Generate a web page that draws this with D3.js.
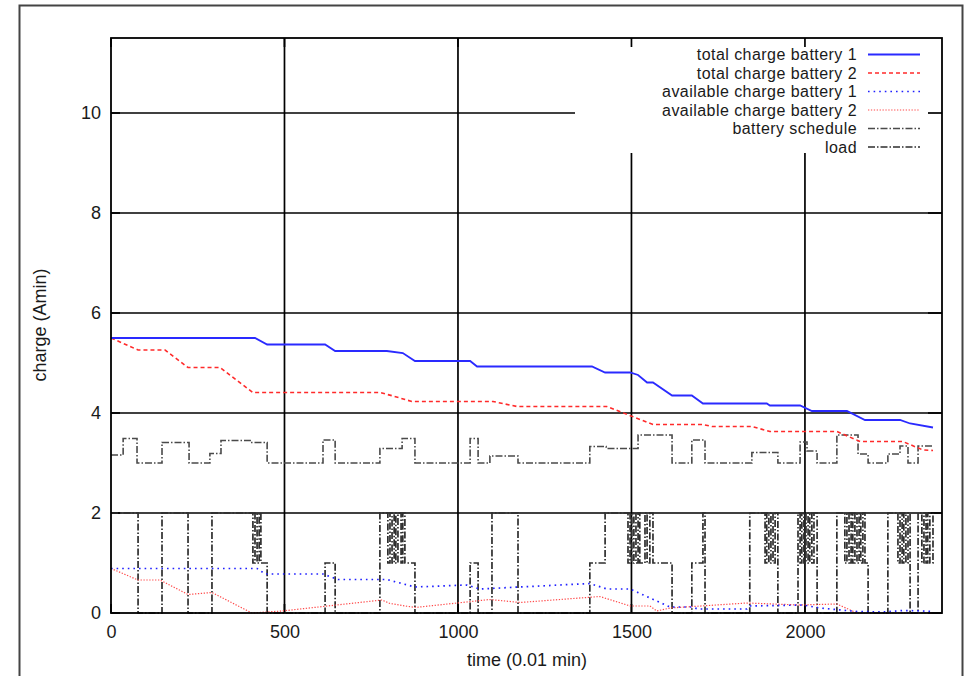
<!DOCTYPE html>
<html>
<head>
<meta charset="utf-8">
<script src="https://cdn.jsdelivr.net/npm/d3@7"></script>
<style>
body { margin: 0; background: #fff; }
svg { display: block; font-family: "Liberation Sans", Arial, sans-serif; }
</style>
</head>
<body>
<svg></svg>
<script>
var width = 979
var height = 676

// time (0.01 min) / charge (Amin) pairs
var xTicks = [0, 500, 1000, 1500, 2000]
var yTicks = [0, 2, 4, 6, 8, 10]

var totalCharge1 = [[0,5.5],[415,5.5],[450,5.37],[617,5.37],[646,5.24],[795,5.24],[841,5.2],[876,5.04],[1035,5.04],
  [1055,4.93],[1386,4.93],[1424,4.81],[1496,4.81],[1519,4.76],[1545,4.61],[1562,4.61],[1617,4.35],[1674,4.35],
  [1706,4.19],[1890,4.19],[1899,4.15],[1986,4.15],[2020,4.04],[2121,4.04],[2173,3.86],[2274,3.86],[2303,3.79],[2369,3.71]]

var totalCharge2 = [[0,5.5],[78,5.26],[156,5.26],[222,4.91],[314,4.91],[409,4.41],[775,4.41],[813,4.34],[867,4.23],
  [1101,4.23],[1170,4.13],[1429,4.13],[1562,3.77],[1706,3.77],[1732,3.73],[1847,3.73],[1899,3.63],[2092,3.63],
  [2159,3.43],[2282,3.43],[2340,3.26],[2369,3.25]]

var availCharge1 = [[0,0.89],[421,0.89],[444,0.78],[611,0.78],[654,0.67],[795,0.67],[876,0.52],[1026,0.56],[1063,0.48],
  [1380,0.59],[1429,0.48],[1496,0.48],[1611,0.12],[1674,0.12],[1692,0.08],[1833,0.08],[1841,0.14],[1994,0.16],
  [2043,0.1],[2150,0.03],[2225,0.02],[2282,0.05],[2340,0.04],[2369,0.03]]

var availCharge2 = [[0,0.89],[78,0.66],[141,0.66],[222,0.37],[291,0.41],[406,0],[493,0.04],[781,0.26],[804,0.19],
  [876,0.11],[1092,0.27],[1179,0.21],[1409,0.33],[1496,0.14],[1553,0.14],[1573,0.04],[1611,0.1],[1833,0.2],
  [1986,0.16],[2092,0.18],[2150,0],[2369,0]]

var schedule = [[0,3.16],[35,3.49],[75,3.0],[147,3.41],[225,3.0],[285,3.19],[317,3.45],[401,3.41],[450,3.0],[611,3.46],
  [646,3.0],[775,3.29],[839,3.49],[876,3.0],[1035,3.49],[1058,3.0],[1092,3.14],[1173,3.0],[1380,3.33],[1427,3.29],
  [1519,3.56],[1617,3.0],[1674,3.46],[1712,3.0],[1847,3.21],[1922,3.0],[1986,3.42],[2006,3.24],[2035,3.0],[2092,3.56],
  [2153,3.18],[2182,3.0],[2239,3.18],[2274,3.34],[2297,3.0],[2326,3.34],[2369,3.34]]

var load = [[0,2],[78,0],[147,2],[222,0],[291,2],[409,1],[415,2],[421,1],[427,2],[432,1],[450,0],[617,1],[646,0],
  [775,2],[798,1],[804,2],[810,1],[816,2],[821,1],[827,2],[836,1],[841,2],[847,1],[876,0],[1035,1],[1058,0],[1098,2],
  [1173,0],[1380,1],[1424,2],[1490,1],[1496,2],[1501,1],[1507,2],[1513,1],[1519,2],[1524,1],[1539,2],[1545,1],[1553,2],
  [1562,1],[1617,0],[1674,1],[1706,2],[1712,0],[1841,2],[1885,1],[1890,2],[1896,1],[1902,2],[1908,1],[1914,2],[1922,0],
  [1980,2],[1986,1],[1991,2],[1997,1],[2003,2],[2009,1],[2014,2],[2020,1],[2026,2],[2035,0],[2092,2],[2115,1],[2121,2],
  [2127,1],[2133,2],[2138,1],[2144,2],[2150,1],[2156,2],[2161,1],[2167,2],[2173,1],[2182,0],[2239,2],[2268,1],[2274,2],
  [2280,1],[2285,2],[2291,1],[2297,2],[2303,0],[2326,2],[2337,1],[2343,2],[2349,1],[2354,2],[2360,1],[2369,2]]

var x = d3.scaleLinear().domain([0, 2395]).range([111, 942])
var y = d3.scaleLinear().domain([0, 11.5]).range([613, 38])

var series = [
  {name: "total charge battery 1", data: totalCharge1, color: "#2a2aff", dash: null, w: 1.8, step: false},
  {name: "total charge battery 2", data: totalCharge2, color: "#ff2a2a", dash: "4,3", w: 1.6, step: false},
  {name: "available charge battery 1", data: availCharge1, color: "#2020ff", dash: "1.6,4", w: 1.7, step: false},
  {name: "available charge battery 2", data: availCharge2, color: "#ff4a4a", dash: "1.3,1.6", w: 1.2, step: false},
  {name: "battery schedule", data: schedule, color: "#4a4a4a", dash: "7,2,1.5,2", w: 1.6, step: true},
  {name: "load", data: load, color: "#2e2e2e", dash: "7,2,1.5,2", w: 1.7, step: true}
]

const svg = d3.select("svg")
  .attr("width", width)
  .attr("height", height)

// outer page frame
svg.append("rect")
  .attr("x", 19.5).attr("y", 5.5)
  .attr("width", 943).attr("height", 700)
  .attr("fill", "none")
  .attr("stroke", "#444")
  .attr("stroke-width", 2)

// grid
var grid = svg.append("g")
  .attr("stroke", "#000")
  .attr("stroke-width", 1.7)
grid.selectAll(".gx").data(xTicks.slice(1)).join("line")
  .attr("x1", d => x(d)).attr("x2", d => x(d))
  .attr("y1", y(0)).attr("y2", y(11.5))
grid.selectAll(".gy").data(yTicks.slice(1)).join("line")
  .attr("x1", x(0)).attr("x2", x(2395))
  .attr("y1", d => y(d)).attr("y2", d => y(d))

// opaque key area
svg.append("rect")
  .attr("x", 575).attr("y", 39)
  .attr("width", 366).attr("height", 114)
  .attr("fill", "#fff")

// inward ticks on all four sides
var ticks = svg.append("g").attr("stroke", "#000").attr("stroke-width", 1.7)
xTicks.forEach(function(t) {
  ticks.append("line").attr("x1", x(t)).attr("x2", x(t)).attr("y1", y(11.5)).attr("y2", y(11.5) + 9)
  ticks.append("line").attr("x1", x(t)).attr("x2", x(t)).attr("y1", y(0)).attr("y2", y(0) - 9)
})
yTicks.forEach(function(t) {
  ticks.append("line").attr("x1", x(0)).attr("x2", x(0) + 9).attr("y1", y(t)).attr("y2", y(t))
  ticks.append("line").attr("x1", x(2395)).attr("x2", x(2395) - 14).attr("y1", y(t)).attr("y2", y(t))
})

// data lines
var line = d3.line().x(d => x(d[0])).y(d => y(d[1]))
var stepLine = d3.line().x(d => x(d[0])).y(d => y(d[1])).curve(d3.curveStepAfter)

svg.append("g")
  .attr("fill", "none")
  .selectAll("path")
  .data(series.slice().reverse())
  .join("path")
  .attr("stroke", d => d.color)
  .attr("stroke-width", d => d.w)
  .attr("stroke-dasharray", d => d.dash)
  .attr("d", d => d.step ? stepLine(d.data) : line(d.data))

// plot border
svg.append("rect")
  .attr("x", x(0)).attr("y", y(11.5))
  .attr("width", x(2395) - x(0)).attr("height", y(0) - y(11.5))
  .attr("fill", "none")
  .attr("stroke", "#000")
  .attr("stroke-width", 1.8)

// axes labels
var xAxis = g => g
  .attr("transform", `translate(0,${y(0)})`)
  .call(d3.axisBottom(x).tickValues(xTicks).tickFormat(d3.format("d")).tickSize(0).tickPadding(12))
  .call(g => g.select(".domain").remove())
var yAxis = g => g
  .attr("transform", `translate(${x(0)},0)`)
  .call(d3.axisLeft(y).tickValues(yTicks).tickSize(0).tickPadding(10))
  .call(g => g.select(".domain").remove())

svg.append("g").call(xAxis)
svg.append("g").call(yAxis)
svg.selectAll(".tick text")
  .attr("font-size", 18)
  .attr("font-family", "Liberation Sans, Arial, sans-serif")
  .attr("fill", "#1a1a1a")

svg.append("text")
  .attr("x", 527).attr("y", 666)
  .attr("text-anchor", "middle")
  .attr("font-size", 18)
  .attr("fill", "#1a1a1a")
  .text("time (0.01 min)")

svg.append("text")
  .attr("transform", "translate(46,325) rotate(-90)")
  .attr("text-anchor", "middle")
  .attr("font-size", 18)
  .attr("fill", "#1a1a1a")
  .text("charge (Amin)")

// key
var key = svg.append("g")
  .selectAll("g")
  .data(series)
  .join("g")
  .attr("transform", (d, i) => `translate(0,${54.5 + i * 18.5})`)

key.append("text")
  .attr("x", 857)
  .attr("dy", "0.35em")
  .attr("text-anchor", "end")
  .attr("font-size", 16)
  .attr("letter-spacing", 0.45)
  .attr("fill", "#1a1a1a")
  .text(d => d.name)

key.append("line")
  .attr("x1", 868).attr("x2", 920)
  .attr("stroke", d => d.color)
  .attr("stroke-width", d => d.w)
  .attr("stroke-dasharray", d => d.dash)
</script>
</body>
</html>
